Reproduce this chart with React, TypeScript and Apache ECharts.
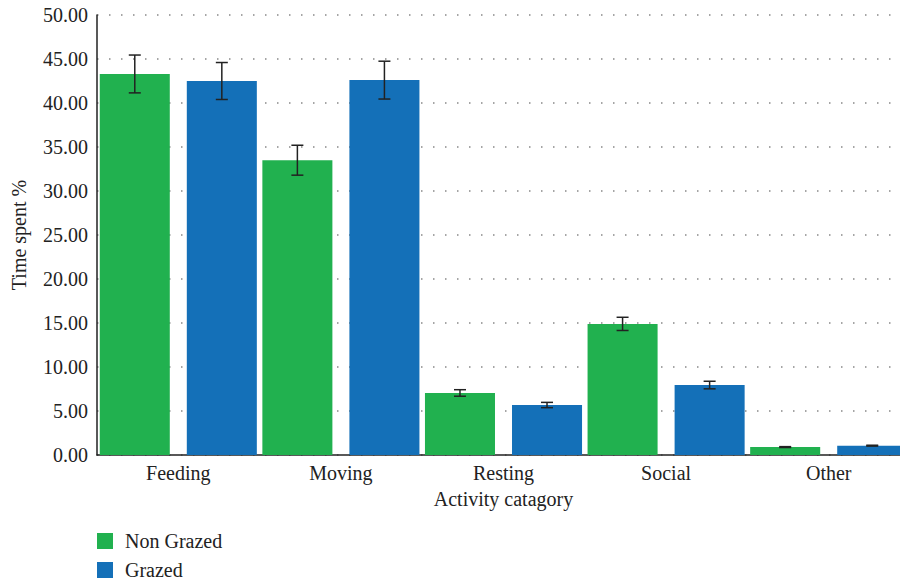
import React, { useEffect, useRef } from "react";
import * as echarts from "echarts";

const categories = ["Feeding", "Moving", "Resting", "Social", "Other"];
const seriesNames = ["Non Grazed", "Grazed"];
const nonGrazed = [43.3, 33.5, 7.05, 14.9, 0.9];
const grazed = [42.5, 42.6, 5.68, 7.95, 1.06];
const nonGrazedErr = [2.15, 1.7, 0.37, 0.75, 0.05];
const grazedErr = [2.1, 2.15, 0.3, 0.43, 0.05];
const yTicks = [0, 5, 10, 15, 20, 25, 30, 35, 40, 45, 50];

const GREEN = "#21b14f";
const BLUE = "#1470b8";
const FONT = "Liberation Serif";
const CAT_GAP = 0.034;
const BAR_GAP = 0.243;

export default function App() {
  const ref = useRef<HTMLDivElement>(null);
  useEffect(() => {
    if (!ref.current) return;
    const chart = echarts.init(ref.current, undefined, { renderer: "svg" });
    const errData: number[][] = [];
    [nonGrazed, grazed].forEach((vals, si) => {
      const errs = si === 0 ? nonGrazedErr : grazedErr;
      vals.forEach((v, i) => errData.push([i, v - errs[i], v + errs[i], si]));
    });
    chart.setOption({
      animation: false,
      grid: { left: 97, right: -10, top: 15, bottom: 127, outerBoundsMode: "none", containLabel: false },
      legend: {
        data: seriesNames,
        orient: "vertical",
        left: 97,
        top: 531,
        height: 60,
        padding: 0,
        itemWidth: 16,
        itemHeight: 16,
        itemGap: 9,
        icon: "rect",
        textStyle: { fontFamily: FONT, fontSize: 20, color: "#222", padding: [0, 0, 0, 7] },
      },
      xAxis: {
        type: "category",
        data: categories,
        name: "Activity catagory",
        nameLocation: "middle",
        nameGap: 34,
        nameTextStyle: { fontFamily: FONT, fontSize: 20, color: "#222" },
        axisLine: { lineStyle: { color: "#222", width: 1.5 } },
        axisTick: { show: false },
        axisLabel: { fontFamily: FONT, fontSize: 20, color: "#222", margin: 8 },
      },
      yAxis: {
        type: "value",
        min: yTicks[0],
        max: yTicks[yTicks.length - 1],
        interval: 5,
        name: "Time spent %",
        nameLocation: "middle",
        nameGap: 68,
        nameTextStyle: { fontFamily: FONT, fontSize: 20, color: "#222" },
        axisLine: { show: true, lineStyle: { color: "#222", width: 1.5 } },
        axisTick: { show: false },
        axisLabel: {
          fontFamily: FONT,
          fontSize: 20,
          color: "#222",
          margin: 9,
          formatter: (v: number) => v.toFixed(2),
        },
        splitLine: {
          show: true,
          lineStyle: { color: "#888", width: 1.5, type: [1.5, 10.5] },
        },
      },
      series: [
        {
          name: seriesNames[0],
          type: "bar",
          data: nonGrazed,
          itemStyle: { color: GREEN },
          barCategoryGap: CAT_GAP * 100 + "%",
          barGap: BAR_GAP * 100 + "%",
        },
        {
          name: seriesNames[1],
          type: "bar",
          data: grazed,
          itemStyle: { color: BLUE },
          barCategoryGap: CAT_GAP * 100 + "%",
          barGap: BAR_GAP * 100 + "%",
        },
        {
          type: "custom",
          data: errData,
          z: 10,
          encode: { x: 0, y: [1, 2] },
          renderItem: (params: any, api: any) => {
            const cat = api.value(0);
            const lo = api.value(1);
            const hi = api.value(2);
            const si = api.value(3);
            const band = api.size([1, 0])[0];
            const usable = band * (1 - CAT_GAP);
            const bw = usable / (2 + BAR_GAP);
            const off = -usable / 2 + bw / 2 + si * bw * (1 + BAR_GAP);
            const pLo = api.coord([cat, lo]);
            const pHi = api.coord([cat, hi]);
            const x = pLo[0] + off;
            const cap = 6;
            const style = { stroke: "#222", lineWidth: 1.5 };
            return {
              type: "group",
              children: [
                { type: "line", shape: { x1: x, y1: pLo[1], x2: x, y2: pHi[1] }, style },
                { type: "line", shape: { x1: x - cap, y1: pLo[1], x2: x + cap, y2: pLo[1] }, style },
                { type: "line", shape: { x1: x - cap, y1: pHi[1], x2: x + cap, y2: pHi[1] }, style },
              ],
            };
          },
        },
      ],
    });
    return () => chart.dispose();
  }, []);
  return (
    <div
      ref={ref}
      style={{ position: "fixed", left: 0, top: 0, width: 900, height: 582, background: "#fff" }}
    />
  );
}
